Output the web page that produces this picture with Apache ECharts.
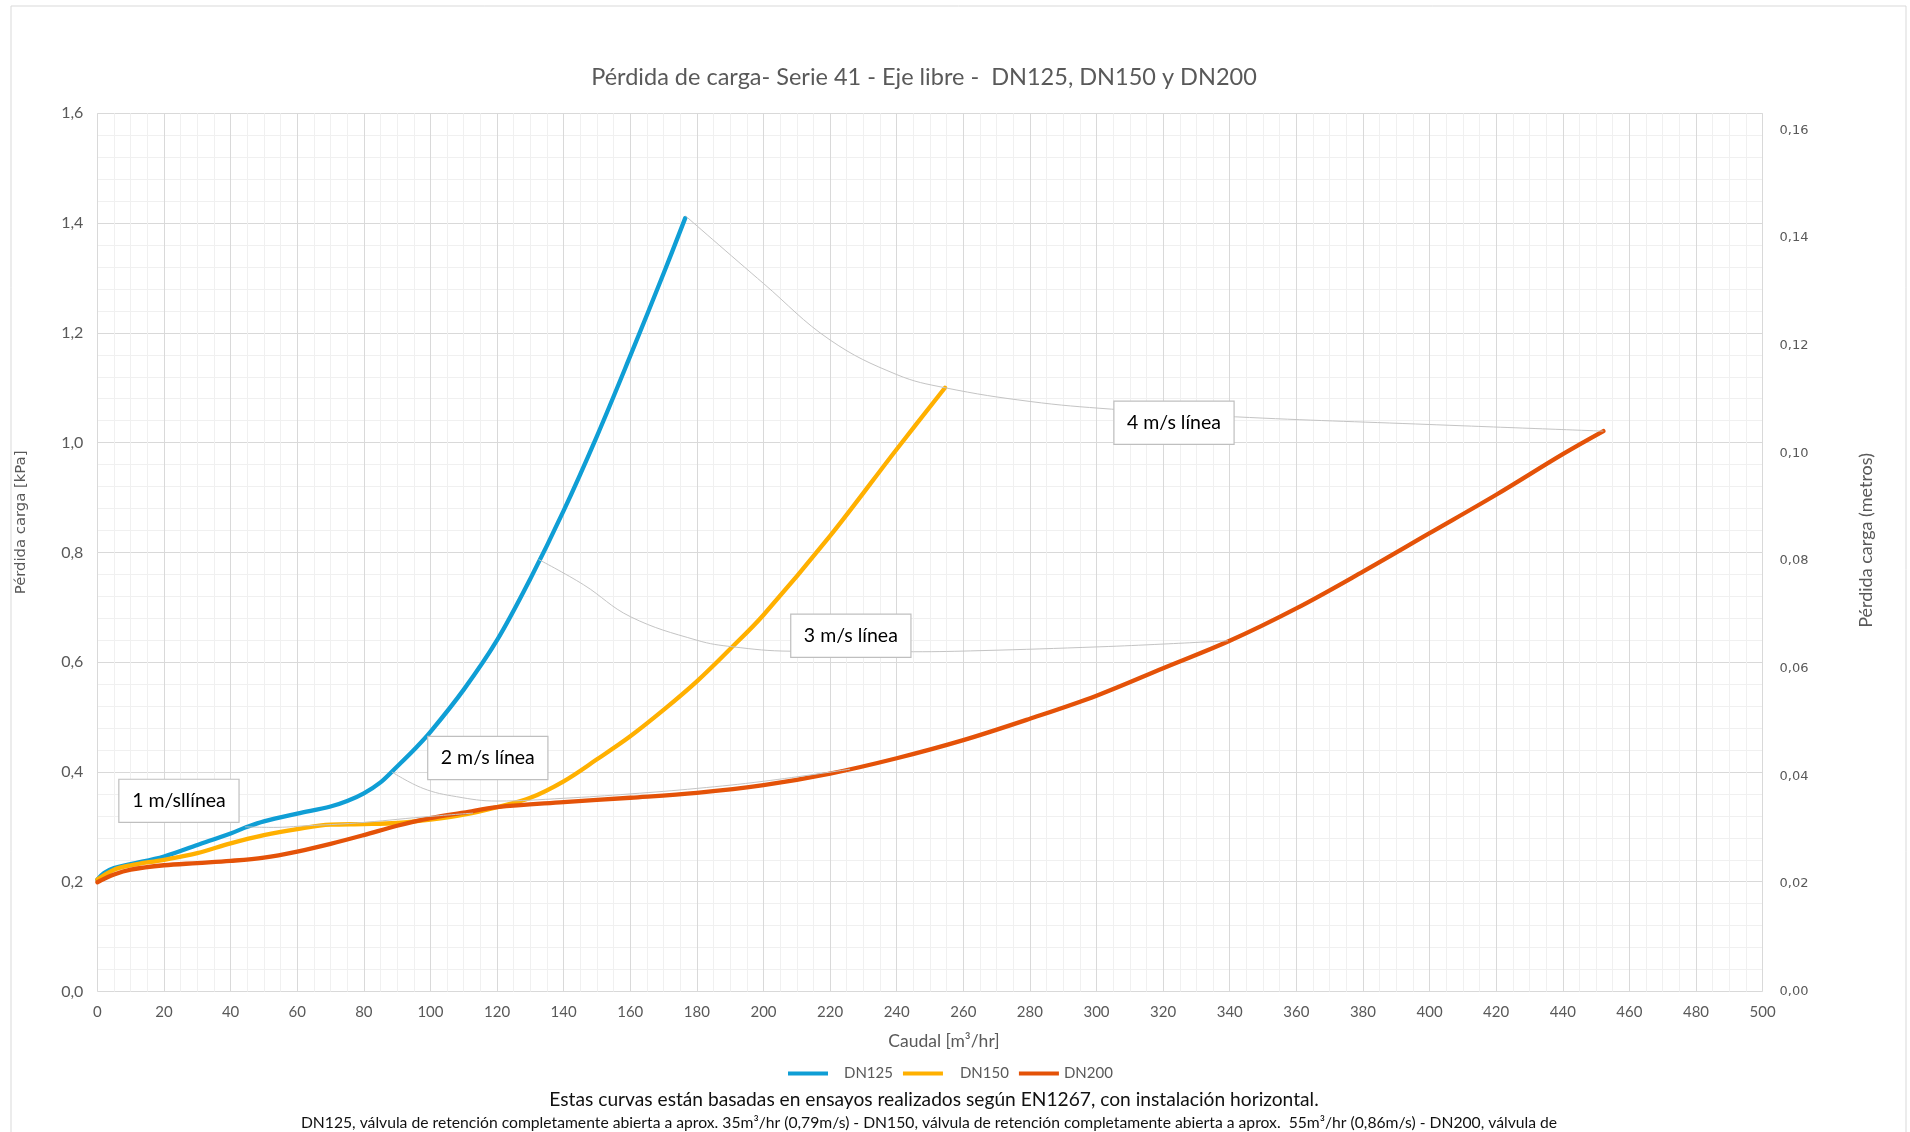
<!DOCTYPE html>
<html>
<head>
<meta charset="utf-8">
<script src="https://cdn.jsdelivr.net/npm/echarts@6/dist/echarts.min.js"></script>
<style>
html,body{margin:0;padding:0;background:#fff;}
#chart{width:1910px;height:1132px;}
</style>
</head>
<body>
<div id="chart"></div>
<script>
// ---- data ----
const seriesNames = ['DN125', 'DN150', 'DN200'];
const dn125 = [[0,0.204],[2,0.216],[5,0.225],[10,0.232],[20,0.246],[30,0.267],[40,0.288],[45,0.300],[50,0.310],[60,0.324],[70,0.337],[75,0.347],[80,0.361],[85,0.381],[90,0.410],[95,0.440],[100,0.473],[110,0.550],[120,0.640],[130,0.752],[140,0.876],[150,1.012],[160,1.158],[170,1.308],[176.5,1.409]];
const dn150 = [[0,0.204],[5,0.222],[10,0.230],[20,0.240],[30,0.252],[40,0.270],[50,0.285],[60,0.296],[70,0.304],[80,0.305],[90,0.307],[100,0.313],[110,0.322],[120,0.336],[130,0.353],[140,0.383],[150,0.423],[160,0.465],[170,0.513],[180,0.565],[190,0.624],[200,0.686],[220,0.830],[240,0.988],[254.5,1.100]];
const dn200 = [[0,0.199],[5,0.213],[10,0.222],[20,0.230],[30,0.234],[40,0.238],[50,0.244],[60,0.255],[70,0.269],[80,0.285],[90,0.302],[100,0.316],[110,0.326],[120,0.336],[140,0.345],[160,0.353],[180,0.362],[200,0.376],[220,0.397],[240,0.425],[260,0.458],[280,0.497],[300,0.539],[320,0.589],[340,0.639],[360,0.698],[380,0.765],[400,0.835],[420,0.905],[440,0.979],[452.2,1.021]];
const line1ms = [[44.3,0.300],[52.8,0.299],[62.8,0.302],[77.8,0.307],[97.8,0.318],[112.8,0.325]];
const line2ms = [[88.4,0.400],[97.8,0.370],[107.8,0.355],[120,0.347],[140,0.352],[160,0.360],[180,0.370],[200,0.383],[226,0.405]];
const line3ms = [[132.5,0.787],[146,0.741],[160,0.683],[180,0.640],[190.8,0.628],[208,0.620],[245,0.619],[265,0.621],[301,0.628],[320,0.633],[339.5,0.639]];
const line4ms = [[176.6,1.413],[200,1.290],[220,1.187],[240,1.124],[254.5,1.100],[280,1.075],[304.5,1.061],[341.7,1.047],[400,1.033],[452.2,1.021]];
const speedLabels = ['1 m/sllínea', '2 m/s línea', '3 m/s línea', '4 m/s línea'];
const speedLabelAnchor = [0, 0, 4, 4];
const titleText = 'Pérdida de carga- Serie 41 - Eje libre -  DN125, DN150 y DN200';
const xName = 'Caudal [m³/hr]';
const yLeftName = 'Pérdida carga [kPa]';
const yRightName = 'Pérdida carga (metros)';
const footer1 = 'Estas curvas están basadas en ensayos realizados según EN1267, con instalación horizontal.';
const footer2 = 'DN125, válvula de retención completamente abierta a aprox. 35m³/hr (0,79m/s) - DN150, válvula de retención completamente abierta a aprox.  55m³/hr (0,86m/s) - DN200, válvula de';
const KPA_TO_M = 0.10197;

// ---- styling ----
const colors = ['#0f9ed5', '#ffb000', '#e45208'];
const labelOffsets = [[-66, -26], [96, -14], [118, -11], [229, 35]];
const legendTextPad = [[0, 0, 0, 11], [0, 0, 0, 12], [0, 0, 0, 0]];
const GREY = '#595959';

const chart = echarts.init(document.getElementById('chart'), null, {renderer: 'canvas'});

function dataSeries(name, data, color) {
  return {
    name, type: 'line', data, xAxisIndex: 0, yAxisIndex: 0,
    smooth: 0.35, symbol: 'none',
    lineStyle: {color, width: 4.3, cap: 'round', join: 'round'},
    itemStyle: {color},
    z: 3, silent: true
  };
}
function speedSeries(idx, data) {
  return {
    name: 'speed' + idx, type: 'line', xAxisIndex: 0, yAxisIndex: 0,
    smooth: 0.4,
    symbol: 'circle', symbolSize: 0, showSymbol: true,
    itemStyle: {color: 'rgba(0,0,0,0)'},
    lineStyle: {color: '#c4c4c4', width: 1},
    z: 4, silent: true,
    label: {show: false},
    data: data.map((p, i) => i === speedLabelAnchor[idx] ? {
      value: p,
      label: {
        show: true, position: 'inside', offset: labelOffsets[idx],
        formatter: speedLabels[idx],
        color: '#000', fontFamily: 'Lato', fontSize: 19.5,
        backgroundColor: '#fff', borderColor: '#bfbfbf', borderWidth: 1.2,
        width: 119, height: 42, lineHeight: 42, align: 'center', verticalAlign: 'middle'
      }
    } : p)
  };
}

const option = {
  animation: false,
  backgroundColor: '#fff',
  grid: {left: 97.4, right: 147.4, top: 113.3, bottom: 140.5, containLabel: false, outerBoundsMode: 'none'},
  legend: {
    data: seriesNames.map((n, i) => ({name: n, textStyle: {padding: legendTextPad[i]}})),
    left: 783, top: 1061,
    icon: 'rect', itemWidth: 40, itemHeight: 4, itemGap: 10,
    textStyle: {color: GREY, fontFamily: 'Lato', fontSize: 15},
    selectedMode: false
  },
  xAxis: {
    type: 'value', min: 0, max: 500, interval: 20,
    name: xName, nameLocation: 'middle', nameGap: 41,
    nameTextStyle: {color: GREY, fontFamily: 'Lato', fontSize: 17.5, padding: [0, 0, 0, 28]},
    axisLine: {show: false}, axisTick: {show: false},
    axisLabel: {color: GREY, fontFamily: 'Lato', fontSize: 15, margin: 13},
    splitLine: {show: true, lineStyle: {color: '#d9d9d9', width: 1}},
    minorTick: {show: false, splitNumber: 4},
    minorSplitLine: {show: true, lineStyle: {color: '#f0f0f0', width: 1}}
  },
  yAxis: [{
    type: 'value', min: 0, max: 1.6, interval: 0.2, position: 'left',
    name: yLeftName, nameLocation: 'middle', nameGap: 69, nameRotate: 90,
    nameTextStyle: {color: GREY, fontFamily: 'DejaVu Sans', fontSize: 14.8, padding: [0, 0, 0, 60]},
    axisLine: {show: false}, axisTick: {show: false},
    axisLabel: {color: GREY, fontFamily: 'Lato', fontSize: 16, margin: 14,
      formatter: v => v.toFixed(1).replace('.', ',')},
    splitLine: {show: true, lineStyle: {color: '#d9d9d9', width: 1}},
    minorTick: {show: false, splitNumber: 5},
    minorSplitLine: {show: true, lineStyle: {color: '#f0f0f0', width: 1}}
  }, {
    type: 'value', min: 0, max: 1.6 * KPA_TO_M, interval: 0.02, position: 'right',
    name: yRightName, nameLocation: 'middle', nameGap: 95, nameRotate: 90,
    nameTextStyle: {color: GREY, fontFamily: 'Lato', fontSize: 18, padding: [0, 0, 0, 24]},
    axisLine: {show: false}, axisTick: {show: false},
    axisLabel: {color: GREY, fontFamily: 'DejaVu Sans', fontSize: 13, margin: 17,
      showMaxLabel: false,
      formatter: v => (Math.abs(v / 0.02 - Math.round(v / 0.02)) < 1e-6) ? v.toFixed(2).replace('.', ',') : ''},
    splitLine: {show: false}
  }],
  series: [
    speedSeries(0, line1ms),
    speedSeries(1, line2ms),
    speedSeries(2, line3ms),
    speedSeries(3, line4ms),
    dataSeries(seriesNames[0], dn125, colors[0]),
    dataSeries(seriesNames[1], dn150, colors[1]),
    dataSeries(seriesNames[2], dn200, colors[2])
  ],
  graphic: [
    {type: 'rect', silent: true, z: -10, shape: {x: 11, y: 6, width: 1895, height: 1160},
      style: {fill: 'none', stroke: '#d9d9d9', lineWidth: 1}},
    {type: 'text', x: 924, y: 77, silent: true,
      style: {text: titleText, fill: GREY, font: '23.5px Lato', align: 'center', verticalAlign: 'middle'}},
    {type: 'text', x: 934, y: 1100, silent: true,
      style: {text: footer1, fill: '#111', font: '19.2px Lato', align: 'center', verticalAlign: 'middle'}},
    {type: 'text', x: 929, y: 1123, silent: true,
      style: {text: footer2, fill: '#111', font: '15.7px Lato', align: 'center', verticalAlign: 'middle'}}
  ]
};
chart.setOption(option);
</script>
</body>
</html>
